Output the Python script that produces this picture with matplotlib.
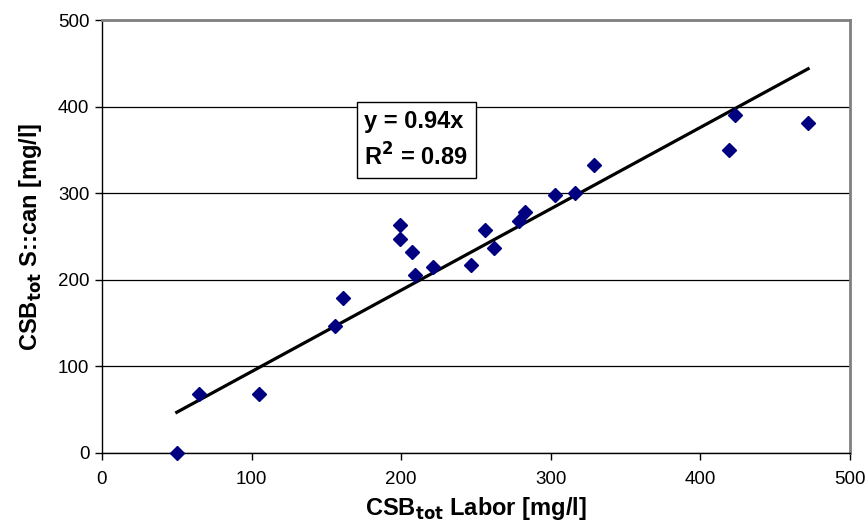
import numpy as np
import matplotlib.pyplot as plt

plt.rcParams['font.family'] = ['Liberation Sans', 'DejaVu Sans']

# CSB_tot: lab value vs. S::can probe value [mg/l]
labor = [50, 65, 105, 156, 161, 199, 199, 207, 209, 221, 247,
         256, 262, 279, 283, 303, 316, 329, 419, 423, 472]
scan = [0, 68, 68, 147, 179, 263, 247, 232, 206, 215, 217,
        258, 237, 268, 278, 298, 300, 333, 350, 390, 381]
slope = 0.94
r2 = 0.89

fig = plt.figure(figsize=(8.67, 5.24), dpi=100)
ax = fig.add_axes([0.1176, 0.1355, 0.8628, 0.8263])

ax.set_xlim(0, 500)
ax.set_ylim(0, 500)
ax.set_xticks(range(0, 501, 100))
ax.set_yticks(range(0, 501, 100))

ax.grid(axis='y', color='black', linewidth=0.9, zorder=0)
ax.set_axisbelow(True)

# trend line through origin, drawn over the data range
xfit = np.array([min(labor), max(labor)])
ax.plot(xfit, slope * xfit, color='black', linewidth=2.3, zorder=2, clip_on=False)

ax.plot(labor, scan, linestyle='none', marker='D', markersize=6.7,
        color='#000080', markeredgecolor='#000080', zorder=3, clip_on=False)

ax.text(210, 361, f'y = {slope:.2f}x\nR$^\\mathbf{{2}}$ = {r2:.2f}', fontsize=17,
        fontweight='bold', va='center', ha='center', multialignment='left',
        linespacing=1.45, zorder=4,
        bbox=dict(boxstyle='square,pad=0.33', facecolor='white', edgecolor='black',
                  linewidth=1))

for side in ('top', 'right'):
    ax.spines[side].set_color('#808080')
    ax.spines[side].set_linewidth(2)
for side in ('left', 'bottom'):
    ax.spines[side].set_color('black')
    ax.spines[side].set_linewidth(1)

ax.tick_params(direction='out', length=5, width=1, labelsize=13.5, pad=4)
ax.tick_params(axis='x', pad=8)

ax.set_xlabel('CSB$_{\\mathbf{tot}}$ Labor [mg/l]', fontsize=17, fontweight='bold', labelpad=5)
ax.set_ylabel('CSB$_{\\mathbf{tot}}$ S::can [mg/l]', fontsize=17, fontweight='bold', labelpad=10)

fig.savefig('out.png', dpi=100)
